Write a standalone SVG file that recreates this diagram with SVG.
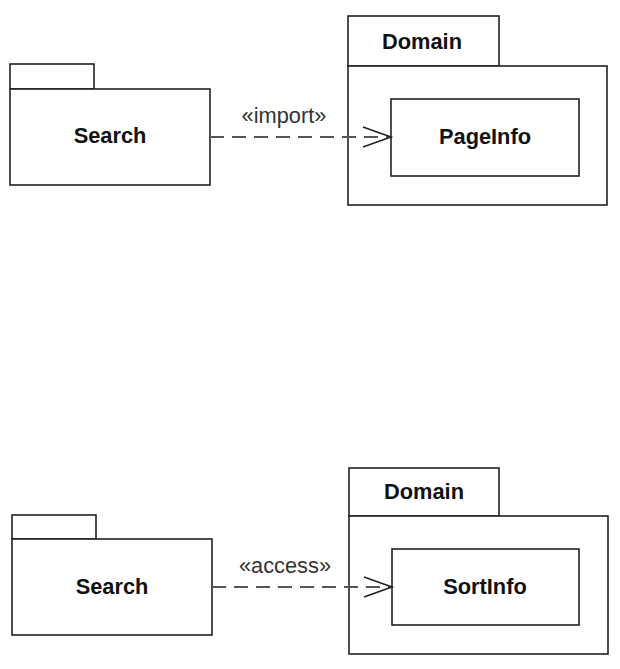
<svg xmlns="http://www.w3.org/2000/svg" width="620" height="669" viewBox="0 0 620 669">
<defs>
<style>
.box{fill:#fff;stroke:#222;stroke-width:1.6}
.b{font-family:"Liberation Sans",Arial,sans-serif;font-weight:bold;font-size:21.8px;fill:#111;text-anchor:middle}
.l{font-family:"Liberation Sans",Arial,sans-serif;font-size:21.8px;fill:#333;text-anchor:middle}
.dep{fill:none;stroke:#555;stroke-width:1.8;stroke-dasharray:14 8}
.head{fill:none;stroke:#222;stroke-width:1.6}
</style>
</defs>
<rect width="620" height="669" fill="#fff"/>
<g id="search1">
<rect class="box" x="10" y="64" width="84" height="25"/>
<rect class="box" x="10" y="89" width="200" height="96"/>
<text class="b" x="110" y="143">Search</text>
</g>
<g id="domain1">
<rect class="box" x="348" y="16" width="151" height="50"/>
<rect class="box" x="348" y="66" width="259" height="139"/>
<text class="b" x="422" y="49">Domain</text>
</g>
<g id="pageinfo">
<rect class="box" x="391" y="99" width="188" height="77"/>
<text class="b" x="485" y="144">PageInfo</text>
</g>
<g id="search2">
<rect class="box" x="12" y="515" width="84" height="24"/>
<rect class="box" x="12" y="539" width="200" height="96"/>
<text class="b" x="112" y="594">Search</text>
</g>
<g id="domain2">
<rect class="box" x="349" y="468" width="150" height="48"/>
<rect class="box" x="349" y="516" width="259" height="138"/>
<text class="b" x="424" y="499">Domain</text>
</g>
<g id="sortinfo">
<rect class="box" x="392" y="549" width="187" height="76"/>
<text class="b" x="485" y="594">SortInfo</text>
</g>
<g id="connectors">
<line class="dep" x1="210" y1="137" x2="389" y2="137"/>
<polyline class="head" points="363,127 391,137 363,147"/>
<text class="l" x="284" y="123">«import»</text>
<line class="dep" x1="212" y1="587" x2="390" y2="587"/>
<polyline class="head" points="364,577 392,587 364,597"/>
<text class="l" x="285" y="573">«access»</text>
</g>
</svg>
